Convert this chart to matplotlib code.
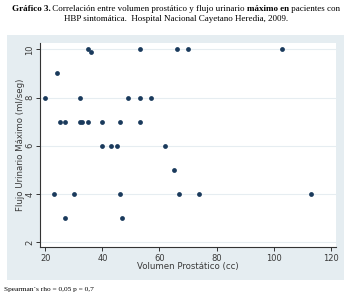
import matplotlib
matplotlib.use("Agg")
import matplotlib.pyplot as plt
from matplotlib.patches import Rectangle

# data
volumen = [20, 24, 25, 27, 32, 32, 33, 35, 35, 36, 40, 46, 53, 40, 43, 45,
           49, 53, 57, 53, 66, 70, 103, 62, 65, 23, 30, 46, 67, 74, 113, 27, 47]
flujo = [8, 9, 7, 7, 8, 7, 7, 7, 10, 9.9, 7, 7, 7, 6, 6, 6,
         8, 8, 8, 10, 10, 10, 10, 6, 5, 4, 4, 4, 4, 4, 4, 3, 3]
xticks = [20, 40, 60, 80, 100, 120]
yticks = [2, 4, 6, 8, 10]

title1 = [("Gráfico 3.", "bold"), (" Correlación entre volumen prostático y flujo urinario ", "normal"),
          ("máximo en", "bold"), (" pacientes con", "normal")]
title2 = "HBP sintomática.  Hospital Nacional Cayetano Heredia, 2009."
footer = "Spearman´s rho = 0,05 p = 0,7"

W, H = 351, 304
fig = plt.figure(figsize=(W / 100, H / 100), dpi=100)
fig.patch.set_facecolor("white")

# light stata-like panel behind the plot
panel = Rectangle((7 / W, 1 - 280 / H), 337 / W, 245 / H,
                  transform=fig.transFigure, facecolor="#e5edf1",
                  edgecolor="none", zorder=-5)
fig.add_artist(panel)

ax = fig.add_axes([40 / W, 1 - 247.3 / H, 295.7 / W, 204 / H])
ax.set_zorder(1)
ax.set_facecolor("white")
ax.scatter(volumen, flujo, s=12, color="#1a3a5c", zorder=3, linewidths=0)
ax.set_xlim(18.1, 121.8)
ax.set_ylim(1.79, 10.25)
ax.set_xticks(xticks)
ax.set_yticks(yticks)
for s in ["top", "right"]:
    ax.spines[s].set_visible(False)
for s in ["left", "bottom"]:
    ax.spines[s].set_color("#333333")
    ax.spines[s].set_linewidth(0.8)
ax.tick_params(length=3, width=0.7, color="#333333", labelsize=6,
               labelcolor="#3a3a3a", pad=1.5)
ax.tick_params(axis="y", pad=1)
plt.setp(ax.get_yticklabels(), rotation=90, va="center")
ax.grid(axis="y", color="#e6edf1", linewidth=0.8, zorder=0)
ax.set_xlabel("Volumen Prostático (cc)", fontsize=6.2, color="#3a3a3a", labelpad=-0.5)
ax.set_ylabel("Flujo Urinario Máximo (ml/seg)", fontsize=6.2, color="#3a3a3a", labelpad=0.5)

serif = "Liberation Serif"
fs = 6.5

# first title line with bold pieces, centred
fig.canvas.draw()
r = fig.canvas.get_renderer()
parts = []
total = 0
for txt, w in title1:
    t = fig.text(0, 1 - 9 / H, txt, fontsize=fs, family=serif, weight=w, va="center")
    wd = t.get_window_extent(r).width
    parts.append((t, wd))
    total += wd
x0 = 176 - total / 2
for t, wd in parts:
    t.set_x(x0 / W)
    x0 += wd

fig.text(176 / W, 1 - 19 / H, title2, fontsize=fs, family=serif, ha="center", va="center")
fig.text(4 / W, 1 - 289 / H, footer, fontsize=5.3, family=serif, va="center")

fig.savefig("out.png", dpi=100)
